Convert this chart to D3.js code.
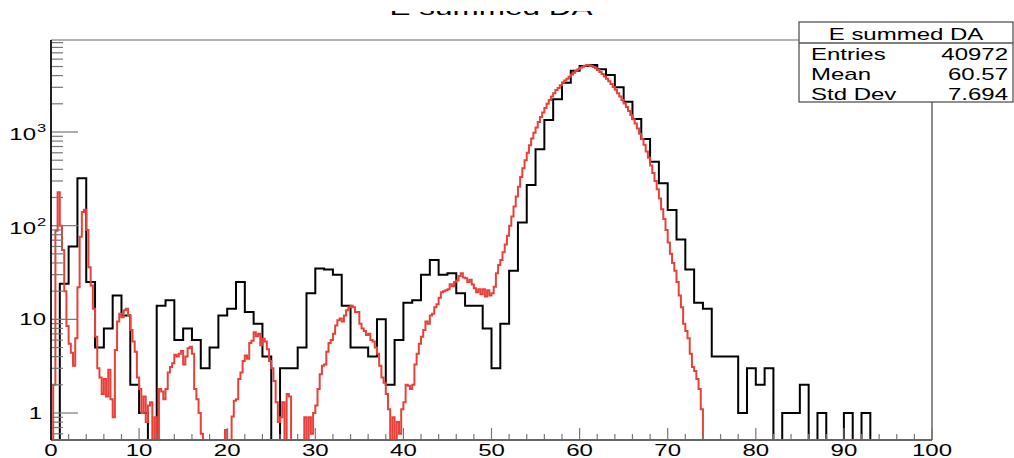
<!DOCTYPE html>
<html>
<head>
<meta charset="utf-8">
<script src="https://cdn.jsdelivr.net/npm/d3@7"></script>
<style>
  body { margin: 0; background: #fff; }
  text { font-family: "Liberation Sans", Arial, Helvetica, sans-serif; fill: #000; }
</style>
</head>
<body>
<div id="chart"></div>
<script>
// Black histogram: counts per 1-unit bin, 0..100
const blackCounts = [
  0, 24, 60, 320, 25, 5, 8, 18, 11, 2,
  1, 0, 14, 16, 6, 8, 6, 3, 5, 11,
  13, 25, 12, 9, 4, 0, 3, 3, 5, 19,
  35, 34, 30, 14, 5, 5, 4, 10, 2, 6,
  15, 16, 30, 43, 30, 31, 19, 14, 14, 8,
  3, 9, 33, 108, 272, 653, 1342, 2233, 3360, 4508,
  5060, 5190, 4670, 4060, 3000, 2106, 1376, 842, 482, 283,
  147, 71, 34, 15, 13, 4, 4, 4, 1, 3,
  2, 3, 0, 1, 1, 2, 0, 1, 0, 0,
  1, 0, 1, 0, 0, 0, 0, 0, 0, 0
];
const blackBinWidth = 1;

// Red histogram: 0.25-unit bins starting at 0 (bins past 74 are empty)
const redCounts = [
  0, 2, 88, 228,   100, 55, 20, 8.5,   5.5, 4.4, 3.2, 6.3,   22, 76, 140, 148,
  90, 36, 23, 13,   6.5, 3.0, 2.4, 1.6,   2.3, 1.5, 2.9, 1.4,   0.9, 4.7, 9.5, 11.5,
  10.5, 12.5, 13, 11,   7.7, 5.8, 4.5, 2.4,   1.8, 1.0, 1.5, 0.8,   1.2, 1.3, 0, 0.9,
  0, 1.8, 1.7, 1.4,   1.8, 2.7, 3.1, 3.4,   4.2, 4.0, 4.3, 4.6,   3.3, 4.0, 4.9, 5.1,
  4.3, 1.8, 1.4, 1.0,   0.6, 0, 0, 0,   0, 0, 0, 0,   0, 0, 0, 0.66,
  0, 0, 0.92, 1.35,   1.4, 2.3, 2.7, 3.6,   4.1, 3.8, 5.6, 5.9,   7.3, 6.6, 7.0, 5.3,
  6.2, 5.8, 4.8, 3.6,   3.0, 2.2, 1.3, 0.8,   0.9, 1.3, 0, 1.6,   1.5, 0, 0, 0,
  0, 0, 0, 0.9,   0, 0.9, 0.6, 1.0,   1.2, 1.8, 2.6, 3.2,   3.3, 4.5, 5.6, 6.0,
  7.0, 8.6, 9.8, 10.2,   9.5, 11, 12.5, 13.5,   14, 13.5, 12, 12,   9, 8, 7.5, 6.8,
  7, 6, 5.8, 5,   4.3, 3.2, 2.4, 2.1,   1.6, 1.1, 0, 0.9,   0, 0.8, 0.6, 1.1,
  1.3, 2.0, 1.95, 1.8,   2.0, 3.3, 4.3, 5.5,   6.5, 7.7, 9.5, 9.0,   11, 11.5, 13.5, 14.5,
  17, 19.5, 20, 20.5,   21, 23.7, 22.5, 25,   26, 29, 31, 28,   27.5, 25, 26.5, 23.5,
  21.5, 19.5, 21, 18.5,   21, 17.5, 20.5, 18,   19, 22.3, 31, 38,   43, 52, 63, 78,
  100, 125, 160, 205,   260, 330, 410, 500,   600, 720, 850, 980,   1120, 1280, 1450, 1620,
  1800, 2000, 2200, 2400,   2600, 2800, 2950, 3150,   3350, 3550, 3700, 3900,   4100, 4300, 4500, 4680,
  4850, 4980, 5100, 5180,   5170, 5080, 4950, 4780,   4580, 4380, 4150, 3920,   3700, 3480, 3250, 3030,
  2820, 2600, 2400, 2200,   2020, 1850, 1680, 1520,   1370, 1230, 1090, 960,   840, 730, 620, 530,
  440, 365, 300, 245,   195, 150, 118, 90,   66, 50, 40, 33,   25, 18, 13.5, 9,
  7.5, 6.3, 4.3, 3.1,   2.8, 2.3, 1.8, 1.1
];
const redBinWidth = 0.25;

// Axis ranges and labels
const xDomain = [0, 100];
const yDomain = [0.515, 9600];
const yMajorTicks = [1, 10, 100, 1000];
const yTickBase = ["1", "10", "10", "10"];
const yTickSup = ["", "", "2", "3"];

// Stats box content
const statsTitle = "E summed DA";
const statsNames = ["Entries", "Mean", "Std Dev"];
const statsValues = ["40972", "60.57", "7.694"];
const chartTitle = "E summed DA";

const W = 1014, H = 458;
const frame = { left: 51, right: 932, top: 40, bottom: 440 };
const SX = 1.5; // horizontal stretch of the glyphs

const svg = d3.select("#chart").append("svg")
  .attr("width", W).attr("height", H);

const x = d3.scaleLinear().domain(xDomain).range([frame.left, frame.right]);
const y = d3.scaleLog().domain(yDomain).range([frame.bottom, frame.top]);

// Clip for the histograms
svg.append("clipPath").attr("id", "plotClip")
  .append("rect")
  .attr("x", frame.left).attr("y", frame.top)
  .attr("width", frame.right - frame.left)
  .attr("height", frame.bottom - frame.top);

// Helper for stretched text
function label(g, str, px, py, anchor, size) {
  return g.append("text")
    .attr("transform", `translate(${px},${py}) scale(${SX},1)`)
    .attr("text-anchor", anchor)
    .style("font-size", size + "px")
    .text(str);
}

// Build a step path for a histogram
function histPath(counts, binWidth) {
  const yb = frame.bottom;
  const yv = (v) => (v > yDomain[0] ? y(v) : yb + 2);
  let d = `M${x(0)},${yb + 2}`;
  counts.forEach((v, i) => {
    const yy = yv(v);
    d += `L${x(i * binWidth)},${yy}L${x((i + 1) * binWidth)},${yy}`;
  });
  d += `L${x(counts.length * binWidth)},${yb + 2}L${x(xDomain[1])},${yb + 2}`;
  return d;
}

// Histograms (black first, red on top)
const plot = svg.append("g").attr("clip-path", "url(#plotClip)");
plot.append("path")
  .attr("d", histPath(blackCounts, blackBinWidth))
  .attr("fill", "none").attr("stroke", "#000").attr("stroke-width", 2);
plot.append("path")
  .attr("d", histPath(redCounts, redBinWidth))
  .attr("fill", "none").attr("stroke", "#e8413a").attr("stroke-width", 2);

// Frame lines
svg.append("line")
  .attr("x1", frame.left).attr("x2", frame.right)
  .attr("y1", frame.top).attr("y2", frame.top)
  .attr("stroke", "#999").attr("stroke-width", 1.3);
svg.append("line")
  .attr("x1", frame.right).attr("x2", frame.right)
  .attr("y1", frame.top).attr("y2", frame.bottom)
  .attr("stroke", "#666").attr("stroke-width", 1.5);

// X axis ticks and labels
const axes = svg.append("g");
d3.range(0, 101, 2).forEach((t) => {
  const major = t % 10 === 0;
  axes.append("line")
    .attr("x1", x(t)).attr("x2", x(t))
    .attr("y1", frame.bottom).attr("y2", frame.bottom - (major ? 12 : 6))
    .attr("stroke", "#777").attr("stroke-width", 1.2);
  if (major) label(axes, String(t), x(t), 456, "middle", 16);
});
axes.append("line")
  .attr("x1", frame.left).attr("x2", frame.right)
  .attr("y1", frame.bottom).attr("y2", frame.bottom)
  .attr("stroke", "#666").attr("stroke-width", 2);

// Y axis ticks (log) and labels
y.ticks().forEach((t) => {
  const major = yMajorTicks.includes(t);
  axes.append("line")
    .attr("x1", frame.left).attr("x2", frame.left + (major ? 27 : 12))
    .attr("y1", y(t)).attr("y2", y(t))
    .attr("stroke", "#777").attr("stroke-width", 1.2);
});
yMajorTicks.forEach((t, i) => {
  const sup = yTickSup[i];
  const lx = sup ? 36 : (yTickBase[i] === "1" ? 42 : 46);
  label(axes, yTickBase[i], lx, y(t) + (sup ? 8 : 6), "end", 16);
  if (sup) label(axes, sup, 37, y(t), "start", 11);
});
axes.append("line")
  .attr("x1", frame.left).attr("x2", frame.left)
  .attr("y1", frame.top).attr("y2", frame.bottom)
  .attr("stroke", "#222").attr("stroke-width", 2);

// Title (top part cut by the picture edge)
svg.append("clipPath").attr("id", "titleClip")
  .append("rect").attr("x", 0).attr("y", 11).attr("width", W).attr("height", 20);
const tg = svg.append("g").attr("clip-path", "url(#titleClip)");
label(tg, chartTitle, 491, 15, "middle", 21);

// Stats box
const box = { x0: 799, x1: 1013, y0: 22, y1: 102, split: 43 };
const sg = svg.append("g");
sg.append("rect")
  .attr("x", box.x0).attr("y", box.y0)
  .attr("width", box.x1 - box.x0).attr("height", box.y1 - box.y0)
  .attr("fill", "#fff").attr("stroke", "#555").attr("stroke-width", 1.3);
sg.append("line")
  .attr("x1", box.x0).attr("x2", box.x1)
  .attr("y1", box.split).attr("y2", box.split)
  .attr("stroke", "#555").attr("stroke-width", 1.3);
label(sg, statsTitle, (box.x0 + box.x1) / 2, 39.5, "middle", 16);
statsNames.forEach((name, i) => {
  const by = 59.5 + i * 20;
  label(sg, name, 811, by, "start", 16);
  label(sg, statsValues[i], 1008, by, "end", 16);
});
</script>
</body>
</html>
